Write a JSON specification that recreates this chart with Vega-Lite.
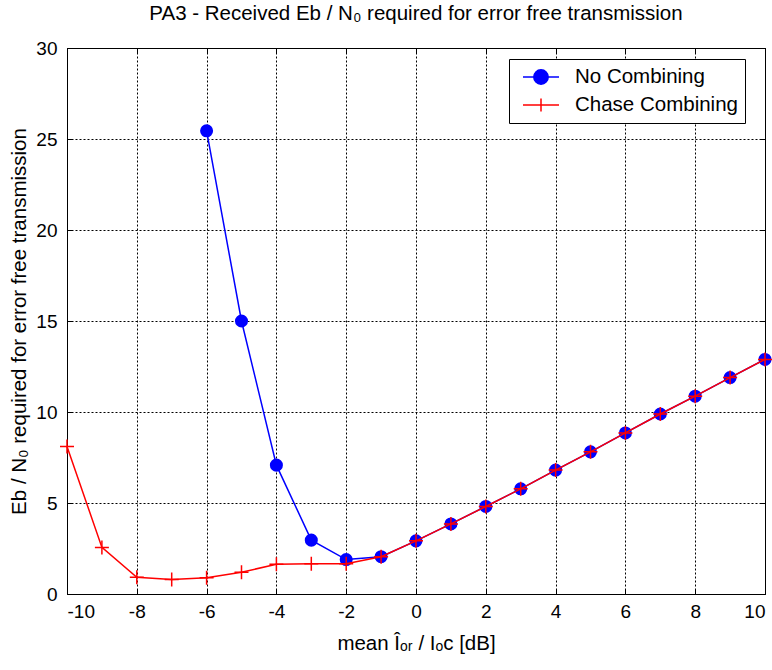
{
  "$schema": "https://vega.github.io/schema/vega-lite/v6.json",
  "width": 698,
  "height": 546,
  "autosize": {"type": "none"},
  "padding": {"left": 67, "top": 48, "right": 7, "bottom": 76},
  "background": "white",
  "title": {
    "text": "PA3 - Received Eb / N₀ required for error free transmission",
    "font": "Liberation Sans",
    "fontSize": 20.5,
    "fontWeight": "normal",
    "color": "black",
    "anchor": "middle",
    "offset": 15
  },
  "resolve": {"axis": {"x": "independent", "y": "independent"}},
  "config": {
    "view": {"stroke": "black", "strokeWidth": 1},
    "axis": {
      "labelFont": "Liberation Sans",
      "labelFontSize": 19,
      "labelColor": "black",
      "titleFont": "Liberation Sans",
      "titleFontSize": 20.5,
      "titleFontWeight": "normal",
      "titleColor": "black",
      "domain": false,
      "tickColor": "black",
      "tickSize": -5,
      "gridColor": "black",
      "gridDash": [2, 2],
      "gridOpacity": 1,
      "gridWidth": 1
    },
    "legend": {
      "labelFont": "Liberation Sans",
      "labelFontSize": 20.5,
      "labelColor": "black",
      "labelLimit": 400
    }
  },
  "data": {
    "values": [
      {"x": -6, "y": 25.45, "series": "No Combining"},
      {"x": -5, "y": 15.0, "series": "No Combining"},
      {"x": -4, "y": 7.08, "series": "No Combining"},
      {"x": -3, "y": 2.96, "series": "No Combining"},
      {"x": -2, "y": 1.89, "series": "No Combining"},
      {"x": -1, "y": 2.05, "series": "No Combining"},
      {"x": 0, "y": 2.92, "series": "No Combining"},
      {"x": 1, "y": 3.85, "series": "No Combining"},
      {"x": 2, "y": 4.81, "series": "No Combining"},
      {"x": 3, "y": 5.78, "series": "No Combining"},
      {"x": 4, "y": 6.81, "series": "No Combining"},
      {"x": 5, "y": 7.81, "series": "No Combining"},
      {"x": 6, "y": 8.85, "series": "No Combining"},
      {"x": 7, "y": 9.89, "series": "No Combining"},
      {"x": 8, "y": 10.87, "series": "No Combining"},
      {"x": 9, "y": 11.89, "series": "No Combining"},
      {"x": 10, "y": 12.89, "series": "No Combining"},
      {"x": -10, "y": 8.11, "series": "Chase Combining"},
      {"x": -9, "y": 2.56, "series": "Chase Combining"},
      {"x": -8, "y": 0.92, "series": "Chase Combining"},
      {"x": -7, "y": 0.79, "series": "Chase Combining"},
      {"x": -6, "y": 0.89, "series": "Chase Combining"},
      {"x": -5, "y": 1.2, "series": "Chase Combining"},
      {"x": -4, "y": 1.63, "series": "Chase Combining"},
      {"x": -3, "y": 1.66, "series": "Chase Combining"},
      {"x": -2, "y": 1.66, "series": "Chase Combining"},
      {"x": -1, "y": 2.05, "series": "Chase Combining"},
      {"x": 0, "y": 2.92, "series": "Chase Combining"},
      {"x": 1, "y": 3.85, "series": "Chase Combining"},
      {"x": 2, "y": 4.81, "series": "Chase Combining"},
      {"x": 3, "y": 5.78, "series": "Chase Combining"},
      {"x": 4, "y": 6.81, "series": "Chase Combining"},
      {"x": 5, "y": 7.81, "series": "Chase Combining"},
      {"x": 6, "y": 8.85, "series": "Chase Combining"},
      {"x": 7, "y": 9.89, "series": "Chase Combining"},
      {"x": 8, "y": 10.87, "series": "Chase Combining"},
      {"x": 9, "y": 11.89, "series": "Chase Combining"},
      {"x": 10, "y": 12.89, "series": "Chase Combining"}
    ]
  },
  "layer": [
    {
      "transform": [{"filter": "datum.series === 'No Combining'"}],
      "mark": {"type": "line", "strokeWidth": 1.5},
      "encoding": {
        "x": {
          "field": "x", "type": "quantitative",
          "scale": {"domain": [-10, 10], "nice": false, "zero": false},
          "axis": {
            "orient": "bottom",
            "values": [-10, -8, -6, -4, -2, 0, 2, 4, 6, 8, 10],
            "labelExpr": "datum.value + ''",
            "labelPadding": 13,
            "title": "mean Îₒᵣ / Iₒc [dB]",
            "titlePadding": 12
          }
        },
        "y": {
          "field": "y", "type": "quantitative",
          "scale": {"domain": [0, 30], "nice": false},
          "axis": {
            "orient": "left",
            "values": [0, 5, 10, 15, 20, 25, 30],
            "labelExpr": "datum.value + ''",
            "labelPadding": 15,
            "title": "Eb / N₀ required for error free transmission",
            "titlePadding": 6
          }
        },
        "color": {
          "field": "series", "type": "nominal",
          "scale": {"domain": ["No Combining", "Chase Combining"], "range": ["#0000ff", "#ff0000"]},
          "legend": {
            "title": null,
            "orient": "none",
            "legendX": 442,
            "legendY": 11,
            "strokeColor": "black",
            "fillColor": "white",
            "padding": 7,
            "symbolOffset": 14,
            "symbolSize": 400,
            "symbolStrokeWidth": 1.5,
            "labelOffset": 23,
            "rowPadding": 6,
            "labelFontSize": 20.5,
            "labelLimit": 400,
            "encode": {
              "symbols": {
                "update": {
                  "shape": {"signal": "datum.value === 'No Combining' ? 'M-1.8,0H1.8M0.72,0A0.72,0.72 0 1,1 -0.72,0A0.72,0.72 0 1,1 0.72,0Z' : 'M-1.8,0H1.8M0,-0.65V0.65'"},
                  "fill": {"signal": "datum.value === 'No Combining' ? '#0000ff' : 'transparent'"},
                  "stroke": {"signal": "datum.value === 'No Combining' ? '#0000ff' : '#ff0000'"},
                  "strokeWidth": {"value": 1.5}
                }
              }
            }
          }
        }
      }
    },
    {
      "transform": [{"filter": "datum.series === 'No Combining'"}],
      "mark": {"type": "point", "shape": "circle", "filled": true, "size": 170, "color": "#0000ff", "opacity": 1},
      "encoding": {
        "x": {"field": "x", "type": "quantitative", "axis": null},
        "y": {"field": "y", "type": "quantitative", "axis": null}
      }
    },
    {
      "transform": [{"filter": "datum.series === 'Chase Combining'"}],
      "mark": {"type": "line", "strokeWidth": 1.5},
      "encoding": {
        "x": {
          "field": "x", "type": "quantitative",
          "axis": {
            "orient": "top",
            "values": [-10, -8, -6, -4, -2, 0, 2, 4, 6, 8, 10],
            "labels": false,
            "grid": false,
            "title": null
          }
        },
        "y": {
          "field": "y", "type": "quantitative",
          "axis": {
            "orient": "right",
            "values": [0, 5, 10, 15, 20, 25, 30],
            "labels": false,
            "grid": false,
            "title": null
          }
        },
        "color": {"field": "series", "type": "nominal"}
      }
    },
    {
      "transform": [{"filter": "datum.series === 'Chase Combining'"}],
      "mark": {"type": "point", "shape": "M-1,0H1M0,-1V1", "filled": false, "size": 196, "color": "#ff0000", "strokeWidth": 1.5, "opacity": 1},
      "encoding": {
        "x": {"field": "x", "type": "quantitative", "axis": null},
        "y": {"field": "y", "type": "quantitative", "axis": null}
      }
    }
  ]
}
